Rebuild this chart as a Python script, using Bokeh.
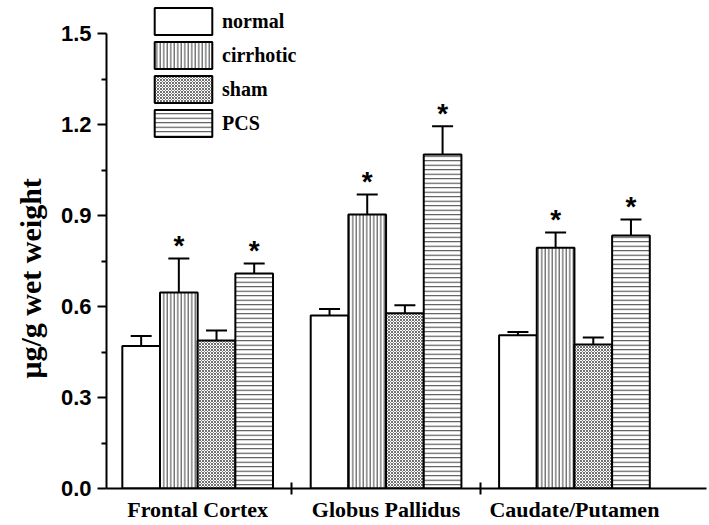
from bokeh.plotting import figure
from bokeh.models import (Range1d, FixedTicker, PrintfTickFormatter, Whisker, TeeHead,
                          ColumnDataSource, Legend, LegendItem, Title)
from bokeh.core.properties import value
from bokeh.embed import file_html
from bokeh.resources import INLINE

# ---------------- data ----------------
groups = ["Frontal Cortex", "Globus Pallidus", "Caudate/Putamen"]
series = ["normal", "cirrhotic", "sham", "PCS"]
normal = [0.470, 0.570, 0.505]
normal_err = [0.033, 0.022, 0.011]
cirrhotic = [0.646, 0.903, 0.794]
cirrhotic_err = [0.112, 0.066, 0.050]
sham = [0.488, 0.578, 0.475]
sham_err = [0.033, 0.026, 0.023]
pcs = [0.709, 1.101, 0.834]
pcs_err = [0.033, 0.093, 0.053]
significant = [[False, False, False], [True, True, True], [False, False, False], [True, True, True]]
y_ticks = [0.0, 0.3, 0.6, 0.9, 1.2, 1.5]
y_minor = [0.15, 0.45, 0.75, 1.05, 1.35]
y_label = "μg/g wet weight"

means = [normal, cirrhotic, sham, pcs]
errs = [normal_err, cirrhotic_err, sham_err, pcs_err]

# ---------------- styles ----------------
hatches = [
    dict(hatch_pattern=" "),
    dict(hatch_pattern="vertical_line", hatch_color="#3a3a3a", hatch_scale=3.5, hatch_weight=1),
    dict(hatch_pattern="diagonal_cross", hatch_color="#707070", hatch_scale=3, hatch_weight=1),
    dict(hatch_pattern="horizontal_line", hatch_color="#3a3a3a", hatch_scale=4.5, hatch_weight=1),
]
SERIF = "Liberation Serif"
SANS = "Liberation Sans"

p = figure(width=709, height=525, output_backend="svg", toolbar_location=None,
           x_range=Range1d(-0.484, 2.701), y_range=Range1d(0, 1.6088),
           min_border_left=104, min_border_right=3, min_border_top=0, min_border_bottom=37)
p.outline_line_color = None
p.xgrid.visible = False
p.ygrid.visible = False
p.background_fill_color = "white"

bar_w = 0.2
offsets = [-0.3, -0.1, 0.1, 0.3]
renderers = []
for i, name in enumerate(series):
    xs = [g + offsets[i] for g in range(len(groups))]
    tops = means[i]
    uppers = [m + e for m, e in zip(means[i], errs[i])]
    src = ColumnDataSource(dict(x=xs, top=tops, upper=uppers))
    r = p.vbar(x="x", top="top", bottom=0, width=bar_w, source=src,
               fill_color="white", line_color="black", line_width=2, **hatches[i])
    renderers.append(r)
    w = Whisker(source=src, base="x", lower="top", upper="upper", dimension="height",
                line_color="black", line_width=2, lower_head=None,
                upper_head=TeeHead(size=21, line_color="black", line_width=2))
    p.add_layout(w)
    sx = [x for x, s in zip(xs, significant[i]) if s]
    sy = [u for u, s in zip(uppers, significant[i]) if s]
    if sx:
        p.text(x=sx, y=sy, text=["*"] * len(sx), text_align="center",
               text_baseline="alphabetic", y_offset=-13,
               text_font=value(SANS), text_font_style="bold", text_font_size="28px",
               text_color="black")

legend = Legend(items=[LegendItem(label=n, renderers=[r]) for n, r in zip(series, renderers)],
                location=(41, 348), orientation="vertical",
                glyph_width=72, glyph_height=34, spacing=0, padding=0, margin=0,
                label_standoff=3, border_line_alpha=0, background_fill_alpha=0,
                label_text_font=SERIF, label_text_font_style="bold",
                label_text_font_size="20px", label_text_color="black")
p.add_layout(legend)

# y axis
ya = p.yaxis[0]
ya.ticker = FixedTicker(ticks=y_ticks, minor_ticks=y_minor)
ya.formatter = PrintfTickFormatter(format="%.1f")
ya.bounds = (0, 1.5)
ya.axis_line_width = 2
ya.major_tick_line_width = 2
ya.minor_tick_line_width = 2
ya.major_tick_out = 9
ya.major_tick_in = 0
ya.minor_tick_out = 5
ya.minor_tick_in = 0
ya.major_label_standoff = 6
ya.major_label_text_font = SANS
ya.major_label_text_font_style = "bold"
ya.major_label_text_font_size = "22px"
ya.major_label_text_color = "black"
ya.axis_label = None

# y axis title (a left-side title, so that it can sit lower than centre as in the reference)
p.add_layout(Title(text=y_label, align="left", offset=110, standoff=22,
                   text_font=SERIF, text_font_style="bold", text_font_size="30px",
                   text_color="black"), "left")

# x axis
xa = p.xaxis[0]
xa.ticker = FixedTicker(ticks=list(range(len(groups))),
                        minor_ticks=[g - 0.5 for g in range(len(groups))])
xa.major_label_overrides = {g: name for g, name in enumerate(groups)}
xa.axis_label = None
xa.axis_line_width = 2
xa.major_tick_out = 0
xa.major_tick_in = 0
xa.minor_tick_out = 6
xa.minor_tick_in = 6
xa.minor_tick_line_width = 2
xa.major_label_standoff = 2
xa.major_label_text_font = SERIF
xa.major_label_text_font_style = "bold"
xa.major_label_text_font_size = "22px"
xa.major_label_text_color = "black"

open("out.html", "w").write(file_html(p, INLINE))
